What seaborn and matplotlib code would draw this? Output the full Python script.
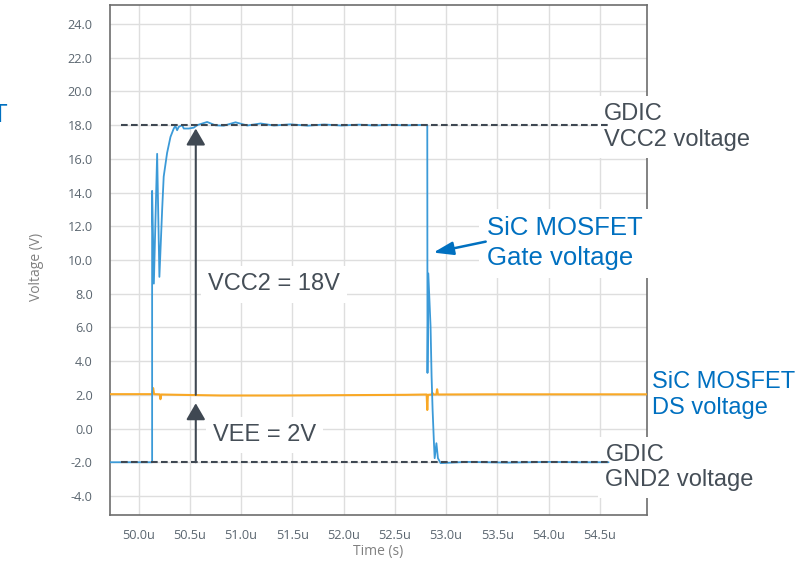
import matplotlib
matplotlib.use("Agg")
import matplotlib.pyplot as plt
import pandas as pd
import seaborn as sns

# SiC MOSFET gate voltage trace (time in us, volts)
gate_time = [
    49.70, 50.131, 50.131, 50.148, 50.180, 50.202, 50.229, 50.244, 50.277, 50.310,
    50.342, 50.358, 50.375, 50.391, 50.424, 50.440, 50.488, 50.537, 50.570, 50.668,
    50.749, 50.830, 50.945, 51.060, 51.190, 51.320, 51.480, 51.650, 51.810, 51.975,
    52.150, 52.300, 52.450, 52.600, 52.750, 52.816, 52.818, 52.826, 52.848, 52.858,
    52.868, 52.881, 52.888, 52.905, 52.920, 52.946, 53.200, 53.600, 54.000, 54.300,
    54.585,
]
gate_volt = [
    -2.0, -2.0, 14.1, 8.6, 16.3, 9.0, 13.0, 14.95, 16.35, 17.3,
    17.8, 17.95, 17.7, 17.9, 18.0, 17.8, 17.8, 17.85, 18.0, 18.19,
    17.99, 17.97, 18.17, 17.98, 18.10, 17.98, 18.05, 17.97, 18.04, 17.98,
    18.03, 17.98, 18.02, 17.99, 18.01, 18.0, 3.3, 9.2, 6.05, 3.1,
    1.1, -0.85, -1.76, -0.87, -1.76, -2.05, -1.98, -2.02, -1.98, -2.0,
    -2.0,
]

# SiC MOSFET drain-source voltage trace
ds_time = [
    49.70, 50.130, 50.141, 50.150, 50.205, 50.212, 50.220, 50.400, 50.800, 51.400,
    52.000, 52.600, 52.810, 52.816, 52.822, 52.860, 52.866, 52.872, 52.905, 52.912,
    52.920, 52.960, 53.400, 54.000, 54.500, 55.000,
]
ds_volt = [
    2.04, 2.04, 2.40, 2.04, 2.03, 1.74, 2.02, 2.0, 1.96, 1.96,
    1.98, 2.0, 2.02, 1.10, 2.0, 2.02, 2.12, 2.02, 2.02, 2.33,
    2.02, 2.02, 2.03, 2.03, 2.03, 2.03,
]

# GDIC supply rails (VCC2, GND2) and the span they are drawn over
rail_levels = [18.0, -2.0]
rail_span = [49.83, 54.585]

x_ticks = [50.0, 50.5, 51.0, 51.5, 52.0, 52.5, 53.0, 53.5, 54.0, 54.5]
y_ticks = [-4, -2, 0, 2, 4, 6, 8, 10, 12, 14, 16, 18, 20, 22, 24]

BLUE_LINE = "#3b9ad8"
ORANGE = "#f9a825"
DARK = "#3f4852"
TEXT_DARK = "#454e57"
TEXT_BLUE = "#0070c0"

sns.set_theme(style="whitegrid")
plt.rcParams["font.family"] = ["Open Sans", "DejaVu Sans"]

fig = plt.figure(figsize=(7.96, 5.61), dpi=100)
ax = fig.add_axes([110 / 796, 46 / 561, 537 / 796, 510 / 561])

gate_df = pd.DataFrame({"time": gate_time, "voltage": gate_volt})
ds_df = pd.DataFrame({"time": ds_time, "voltage": ds_volt})

sns.lineplot(data=ds_df, x="time", y="voltage", sort=False, estimator=None,
             color=ORANGE, lw=1.5, ax=ax, zorder=4)
sns.lineplot(data=gate_df, x="time", y="voltage", sort=False, estimator=None,
             color=BLUE_LINE, lw=1.3, ax=ax, zorder=5)

for level in rail_levels:
    ax.plot(rail_span, [level, level], color=DARK, lw=1.5, dashes=(3.2, 1.6), zorder=6)

ax.set_xlim(49.72, 54.96)
ax.set_ylim(-5.13, 25.13)
ax.set_xticks(x_ticks)
ax.set_xticklabels([f"{t:.1f}u" for t in x_ticks])
ax.set_yticks(y_ticks)
ax.set_yticklabels([f"{v:.1f}" for v in y_ticks])
ax.tick_params(axis="both", direction="out", width=1.3, color="#555555",
               labelsize=9.2, labelcolor="#5b6670")
ax.tick_params(axis="y", length=8.5, pad=4)
ax.tick_params(axis="x", length=6, pad=4)
ax.grid(color="#dedede", lw=1.0)
for sp in ax.spines.values():
    sp.set_color("#6d6d6d")
    sp.set_linewidth(1.2)

ax.set_xlabel("Time (s)", fontsize=10, color="#808080")
ax.set_ylabel("Voltage (V)", fontsize=10, color="#808080")
ax.xaxis.set_label_coords(0.5, -0.056)
ax.yaxis.set_label_coords(-0.122, 0.486)

# supply arrows
arrow_x = 50.557
arrow_style = "-|>,head_length=0.5,head_width=0.29"
ax.annotate("", xy=(arrow_x, 17.8), xytext=(arrow_x, 2.0),
            arrowprops=dict(arrowstyle=arrow_style, mutation_scale=20, color=DARK,
                            lw=1.5, shrinkA=0, shrinkB=0), zorder=7)
ax.annotate("", xy=(arrow_x, 1.5), xytext=(arrow_x, -2.0),
            arrowprops=dict(arrowstyle=arrow_style, mutation_scale=20, color=DARK,
                            lw=1.5, shrinkA=0, shrinkB=0), zorder=7)

# gate voltage pointer
ax.annotate("", xy=(52.875, 10.44), xytext=(53.386, 11.09),
            arrowprops=dict(arrowstyle="-|>,head_length=0.6,head_width=0.2",
                            mutation_scale=20, color=TEXT_BLUE, lw=1.8,
                            shrinkA=0, shrinkB=0), zorder=7)

box = dict(boxstyle="square,pad=0.3", fc="white", ec="none")
label_font = ["Liberation Sans", "DejaVu Sans"]

ax.text(50.674, 8.55, "VCC2 = 18V", fontsize=17, color=TEXT_DARK, family=label_font,
        ha="left", va="center", bbox=box, zorder=3)
ax.text(50.727, -0.38, "VEE = 2V", fontsize=17, color=TEXT_DARK, family=label_font,
        ha="left", va="center", bbox=box, zorder=3)
ax.text(53.395, 11.0, "SiC MOSFET\nGate voltage", fontsize=18.5, color=TEXT_BLUE,
        family=label_font, ha="left", va="center", linespacing=1.3, bbox=box, zorder=3)
ax.text(54.538, 17.9, "GDIC\nVCC2 voltage", fontsize=17, color=TEXT_DARK,
        family=label_font, ha="left", va="center", linespacing=1.2, bbox=box, zorder=3)
ax.text(54.555, -2.3, "GDIC\nGND2 voltage", fontsize=17, color=TEXT_DARK,
        family=label_font, ha="left", va="center", linespacing=1.2, bbox=box, zorder=3)
ax.text(55.007, 2.0, "SiC MOSFET\nDS voltage", fontsize=17, color=TEXT_BLUE,
        family=label_font, ha="left", va="center", linespacing=1.2, zorder=3)

# label cut off at the left edge of the original slide
fig.text(8 / 796, 1 - 122 / 561, "SiC MOSFET", fontsize=18.5, color=TEXT_BLUE,
         family=label_font, ha="right", va="baseline")

fig.savefig("out.png", dpi=100)
